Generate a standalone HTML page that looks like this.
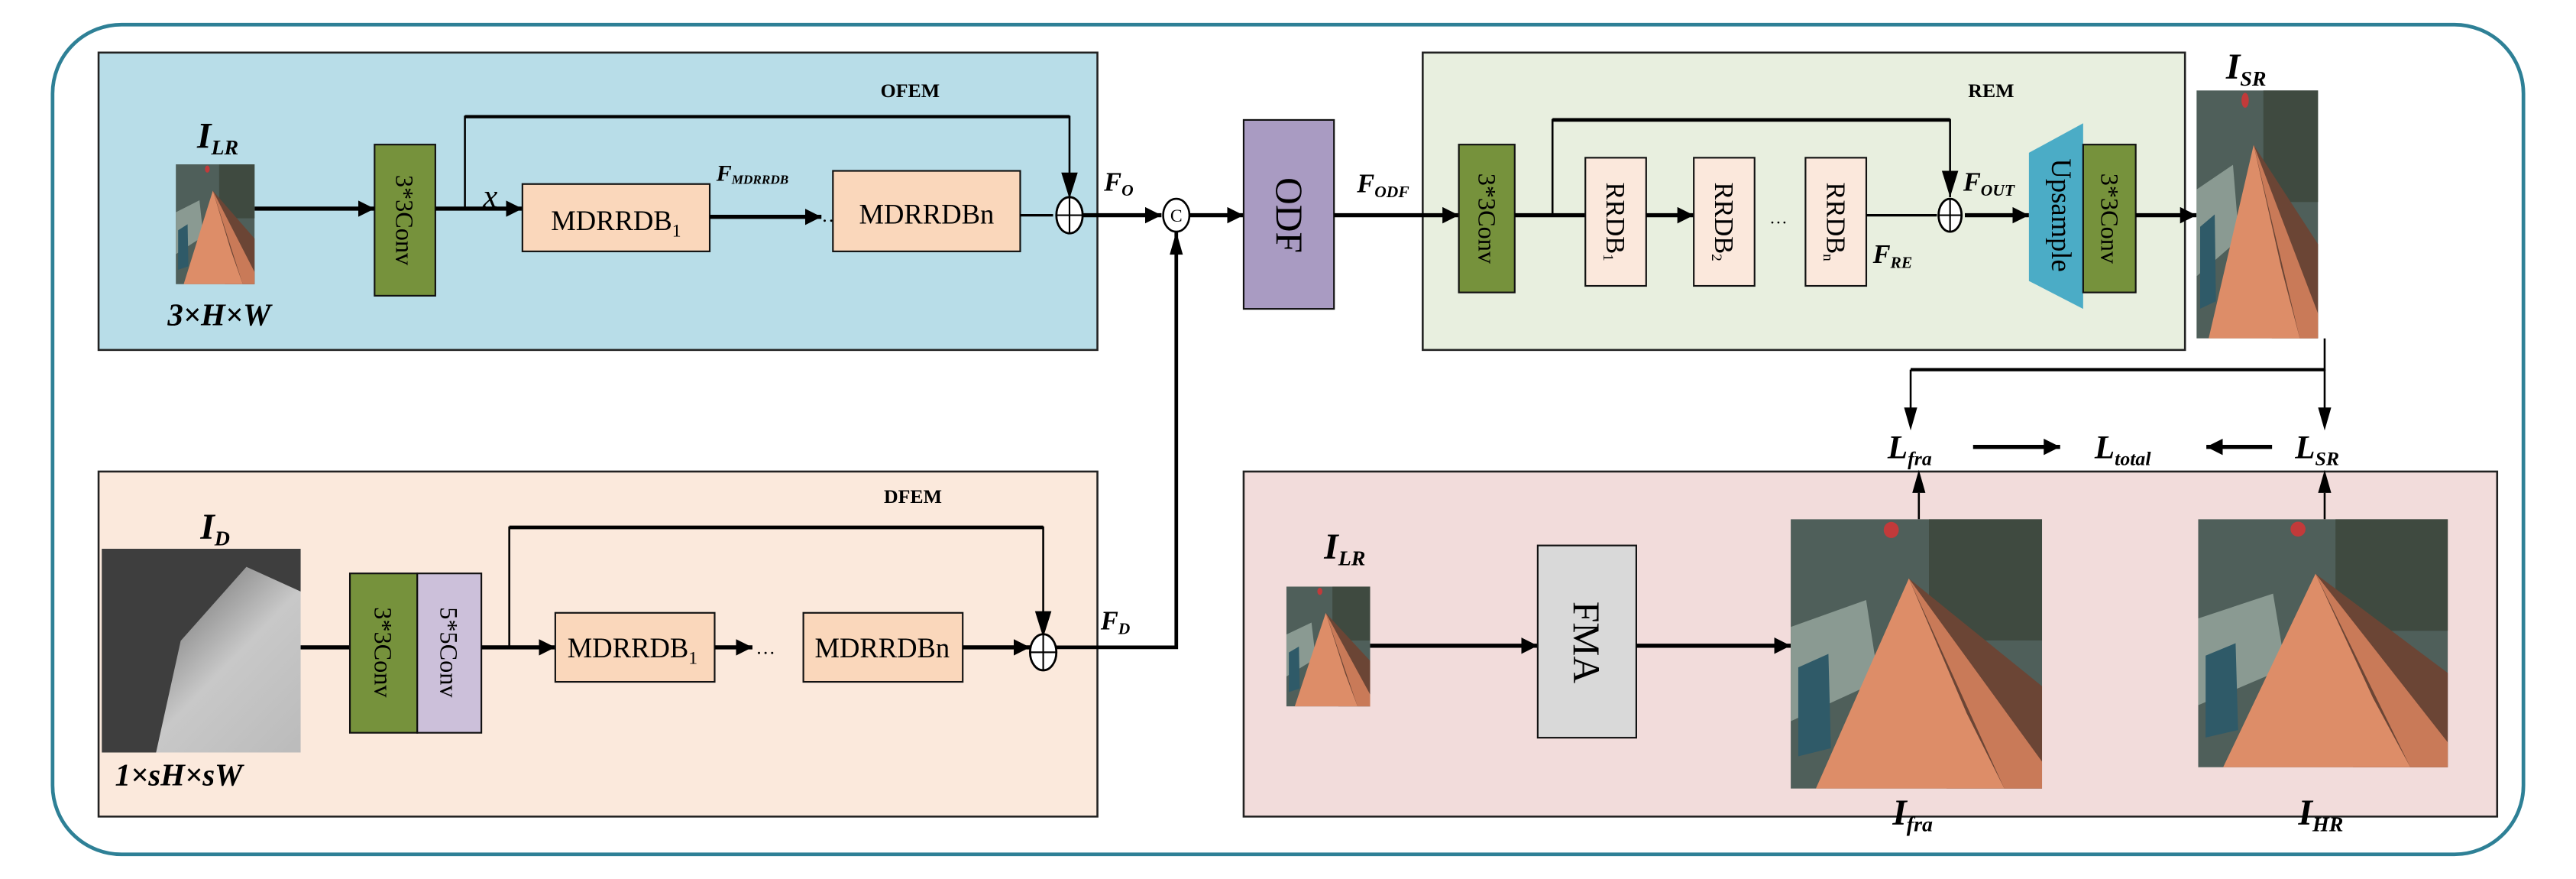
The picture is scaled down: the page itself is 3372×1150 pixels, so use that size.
<!DOCTYPE html>
<html><head><meta charset="utf-8"><style>
html,body{margin:0;padding:0;background:#fff;}
svg{display:block;}
text{font-family:"Liberation Serif",serif;fill:#000;}
.it{font-style:italic;font-weight:bold;}
</style></head><body>
<svg width="3372" height="1150" viewBox="0 0 1568 535" preserveAspectRatio="none" xmlns="http://www.w3.org/2000/svg">
<defs>
<marker id="ab" viewBox="0 0 10 10" refX="10" refY="5" markerWidth="10" markerHeight="10" orient="auto" markerUnits="userSpaceOnUse"><path d="M0,0L10,5L0,10z"/></marker>
<symbol id="roof" viewBox="0 0 100 100" preserveAspectRatio="none">
<rect width="100" height="100" fill="#4f5f5a"/>
<rect x="55" y="0" width="45" height="45" fill="#3f4a40"/>
<path d="M0,40 L30,30 L35,60 L0,75z" fill="#8a9a92"/>
<path d="M3,55 L15,50 L16,85 L3,88z" fill="#2f5a68"/>
<polygon points="47,22 100,62 100,100 62,100" fill="#6b4535"/>
<polygon points="47,22 10,100 85,100 70,72" fill="#dd8d68"/>
<polygon points="47,22 85,100 100,100 100,90" fill="#c97a58"/>
<circle cx="40" cy="4" r="3" fill="#c23a3a"/>
</symbol>
<linearGradient id="dg" x1="0" y1="0" x2="1" y2="1">
<stop offset="0" stop-color="#444"/><stop offset="0.35" stop-color="#8a8a8a"/><stop offset="0.6" stop-color="#c8c8c8"/><stop offset="1" stop-color="#bbb"/></linearGradient>
</defs>

<rect x="32" y="15" width="1504" height="505" rx="42" ry="42" fill="none" stroke="#2e8096" stroke-width="2.2"/>

<!-- OFEM -->
<rect x="60" y="32" width="608" height="181" fill="#b8dde8" stroke="#222" stroke-width="1.2"/>
<text x="536" y="59" font-size="12" font-weight="bold">OFEM</text>
<text x="120" y="90" font-size="22" class="it">I<tspan font-size="13" dy="4">LR</tspan></text>
<use href="#roof" x="107" y="100" width="48" height="73"/>
<text x="102" y="198" font-size="19" class="it">3×H×W</text>
<rect x="228" y="88" width="37" height="92" fill="#76923c" stroke="#111" stroke-width="1"/>
<text transform="translate(241,134) rotate(90)" font-size="15" text-anchor="middle">3*3Conv</text>
<line x1="155" y1="127" x2="228" y2="127" stroke="#000" stroke-width="2.5" marker-end="url(#ab)"/>
<line x1="265" y1="127" x2="318" y2="127" stroke="#000" stroke-width="2.5" marker-end="url(#ab)"/>
<polyline points="283,127 283,71 651,71 651,121" fill="none" stroke="#000" stroke-width="1.2"/>
<path d="M646,105L656,105L651,121z"/>
<line x1="283" y1="71" x2="651" y2="71" stroke="#000" stroke-width="2"/>
<text x="294" y="126" font-size="20" font-style="italic">x</text>
<rect x="318" y="112" width="114" height="41" fill="#fad7bb" stroke="#111" stroke-width="1"/>
<text x="375" y="140" font-size="17" text-anchor="middle">MDRRDB<tspan font-size="11" dy="4">1</tspan></text>
<text x="436" y="110" font-size="14" class="it">F<tspan font-size="8" dy="2">MDRRDB</tspan></text>
<line x1="432" y1="132" x2="500" y2="132" stroke="#000" stroke-width="2.5" marker-end="url(#ab)"/>
<text x="500" y="135" font-size="12">…</text>
<rect x="507" y="104" width="114" height="49" fill="#fad7bb" stroke="#111" stroke-width="1"/>
<text x="564" y="136" font-size="17" text-anchor="middle">MDRRDBn</text>
<line x1="621" y1="131" x2="641" y2="131" stroke="#000" stroke-width="1.5"/>
<ellipse cx="651" cy="131" rx="8" ry="11" fill="#fff" stroke="#000" stroke-width="1.3"/>
<line x1="643" y1="131" x2="659" y2="131" stroke="#000" stroke-width="1"/><line x1="651" y1="120" x2="651" y2="142" stroke="#000" stroke-width="1"/>
<text x="672" y="116" font-size="16" class="it">F<tspan font-size="10" dy="3">O</tspan></text>
<line x1="659" y1="131" x2="707" y2="131" stroke="#000" stroke-width="2.5" marker-end="url(#ab)"/>
<ellipse cx="716" cy="131" rx="8" ry="10" fill="#fff" stroke="#000" stroke-width="1.2"/>
<text x="716" y="135" font-size="11" text-anchor="middle">C</text>
<line x1="724" y1="131" x2="757" y2="131" stroke="#000" stroke-width="2.5" marker-end="url(#ab)"/>

<!-- ODF -->
<rect x="757" y="73" width="55" height="115" fill="#a99bc2" stroke="#111" stroke-width="1"/>
<text transform="translate(777,131) rotate(90)" font-size="23" text-anchor="middle">ODF</text>
<text x="826" y="117" font-size="16" class="it">F<tspan font-size="10" dy="3">ODF</tspan></text>

<!-- REM -->
<rect x="866" y="32" width="464" height="181" fill="#e8efdf" stroke="#222" stroke-width="1.2"/>
<text x="1198" y="59" font-size="12" font-weight="bold">REM</text>
<line x1="812" y1="131" x2="888" y2="131" stroke="#000" stroke-width="2.5" marker-end="url(#ab)"/>
<rect x="888" y="88" width="34" height="90" fill="#76923c" stroke="#111" stroke-width="1"/>
<text transform="translate(900,133) rotate(90)" font-size="15" text-anchor="middle">3*3Conv</text>
<line x1="922" y1="131" x2="965" y2="131" stroke="#000" stroke-width="2.5"/>
<polyline points="945,131 945,73 1187,73 1187,120" fill="none" stroke="#000" stroke-width="1.2"/>
<line x1="945" y1="73" x2="1187" y2="73" stroke="#000" stroke-width="2.2"/>
<path d="M1182,104L1192,104L1187,120z"/>
<rect x="965" y="96" width="37" height="78" fill="#fbe8dc" stroke="#111" stroke-width="1"/>
<text transform="translate(978,135) rotate(90)" font-size="16" text-anchor="middle">RRDB<tspan font-size="9" dy="2">1</tspan></text>
<line x1="1002" y1="131" x2="1031" y2="131" stroke="#000" stroke-width="2.5" marker-end="url(#ab)"/>
<rect x="1031" y="96" width="37" height="78" fill="#fbe8dc" stroke="#111" stroke-width="1"/>
<text transform="translate(1044,135) rotate(90)" font-size="16" text-anchor="middle">RRDB<tspan font-size="9" dy="2">2</tspan></text>
<text x="1077" y="136" font-size="11">…</text>
<rect x="1099" y="96" width="37" height="78" fill="#fbe8dc" stroke="#111" stroke-width="1"/>
<text transform="translate(1112,135) rotate(90)" font-size="16" text-anchor="middle">RRDB<tspan font-size="9" dy="2">n</tspan></text>
<text x="1140" y="160" font-size="16" class="it">F<tspan font-size="10" dy="3">RE</tspan></text>
<line x1="1136" y1="131" x2="1179" y2="131" stroke="#000" stroke-width="1.5"/>
<ellipse cx="1187" cy="131" rx="7" ry="10" fill="#fff" stroke="#000" stroke-width="1.3"/>
<line x1="1180" y1="131" x2="1194" y2="131" stroke="#000" stroke-width="1"/><line x1="1187" y1="121" x2="1187" y2="141" stroke="#000" stroke-width="1"/>
<text x="1195" y="116" font-size="16" class="it">F<tspan font-size="10" dy="3">OUT</tspan></text>
<line x1="1196" y1="131" x2="1235" y2="131" stroke="#000" stroke-width="2.5" marker-end="url(#ab)"/>
<polygon points="1235,93 1268,75 1268,188 1235,171" fill="#4bacc6"/>
<text transform="translate(1249,131) rotate(90)" font-size="17" text-anchor="middle">Upsample</text>
<rect x="1268" y="88" width="32" height="90" fill="#76923c" stroke="#111" stroke-width="1"/>
<text transform="translate(1279,133) rotate(90)" font-size="15" text-anchor="middle">3*3Conv</text>
<line x1="1300" y1="131" x2="1337" y2="131" stroke="#000" stroke-width="2.5" marker-end="url(#ab)"/>
<text x="1355" y="48" font-size="22" class="it">I<tspan font-size="13" dy="4">SR</tspan></text>
<use href="#roof" x="1337" y="55" width="74" height="151"/>

<!-- loss -->
<polyline points="1415,206 1415,225 1163,225" fill="none" stroke="#000" stroke-width="1.2"/>
<line x1="1163" y1="225" x2="1415" y2="225" stroke="#000" stroke-width="2"/>
<line x1="1163" y1="225" x2="1163" y2="258" stroke="#000" stroke-width="1.2"/>
<path d="M1159,248L1167,248L1163,262z"/>
<line x1="1415" y1="225" x2="1415" y2="258" stroke="#000" stroke-width="1.2"/>
<path d="M1411,248L1419,248L1415,262z"/>
<text x="1149" y="279" font-size="20" class="it">L<tspan font-size="12" dy="4">fra</tspan></text>
<text x="1275" y="279" font-size="20" class="it">L<tspan font-size="12" dy="4">total</tspan></text>
<text x="1397" y="279" font-size="20" class="it">L<tspan font-size="12" dy="4">SR</tspan></text>
<line x1="1201" y1="272" x2="1254" y2="272" stroke="#000" stroke-width="2.5" marker-end="url(#ab)"/>
<line x1="1383" y1="272" x2="1343" y2="272" stroke="#000" stroke-width="2.5" marker-end="url(#ab)"/>

<!-- DFEM -->
<rect x="60" y="287" width="608" height="210" fill="#fbe9dc" stroke="#222" stroke-width="1.2"/>
<text x="538" y="306" font-size="12" font-weight="bold">DFEM</text>
<text x="122" y="328" font-size="22" class="it">I<tspan font-size="13" dy="4">D</tspan></text>
<rect x="62" y="334" width="121" height="124" fill="url(#dg)"/>
<polygon points="62,334 183,334 183,360 150,345 110,390 95,458 62,458" fill="#3e3e3e"/>
<text x="70" y="478" font-size="19" class="it">1×sH×sW</text>
<line x1="183" y1="394" x2="213" y2="394" stroke="#000" stroke-width="2.5"/>
<rect x="213" y="349" width="41" height="97" fill="#76923c" stroke="#111" stroke-width="1"/>
<text transform="translate(228,397) rotate(90)" font-size="15" text-anchor="middle">3*3Conv</text>
<rect x="254" y="349" width="39" height="97" fill="#ccc0da" stroke="#111" stroke-width="1"/>
<text transform="translate(268,397) rotate(90)" font-size="15" text-anchor="middle">5*5Conv</text>
<line x1="293" y1="394" x2="338" y2="394" stroke="#000" stroke-width="2.5" marker-end="url(#ab)"/>
<polyline points="310,394 310,321 635,321 635,386" fill="none" stroke="#000" stroke-width="1.2"/>
<line x1="310" y1="321" x2="635" y2="321" stroke="#000" stroke-width="2.2"/>
<path d="M630,372L640,372L635,388z"/>
<rect x="338" y="373" width="97" height="42" fill="#fad7bb" stroke="#111" stroke-width="1"/>
<text x="385" y="400" font-size="17" text-anchor="middle">MDRRDB<tspan font-size="11" dy="4">1</tspan></text>
<line x1="435" y1="394" x2="458" y2="394" stroke="#000" stroke-width="2.5" marker-end="url(#ab)"/>
<text x="460" y="398" font-size="12">…</text>
<rect x="489" y="373" width="97" height="42" fill="#fad7bb" stroke="#111" stroke-width="1"/>
<text x="537" y="400" font-size="17" text-anchor="middle">MDRRDBn</text>
<line x1="586" y1="394" x2="627" y2="394" stroke="#000" stroke-width="2.5" marker-end="url(#ab)"/>
<ellipse cx="635" cy="397" rx="8" ry="11" fill="#fff" stroke="#000" stroke-width="1.3"/>
<line x1="627" y1="397" x2="643" y2="397" stroke="#000" stroke-width="1"/><line x1="635" y1="386" x2="635" y2="408" stroke="#000" stroke-width="1"/>
<text x="670" y="383" font-size="16" class="it">F<tspan font-size="10" dy="3">D</tspan></text>
<polyline points="643,394 716,394 716,141" fill="none" stroke="#000" stroke-width="2.2"/>
<path d="M712,155L720,155L716,141z"/>

<!-- bottom right -->
<rect x="757" y="287" width="763" height="210" fill="#f2dcdb" stroke="#222" stroke-width="1.2"/>
<text x="806" y="340" font-size="22" class="it">I<tspan font-size="13" dy="4">LR</tspan></text>
<use href="#roof" x="783" y="357" width="51" height="73"/>
<line x1="834" y1="393" x2="936" y2="393" stroke="#000" stroke-width="2.5" marker-end="url(#ab)"/>
<rect x="936" y="332" width="60" height="117" fill="#d9d9d9" stroke="#111" stroke-width="1"/>
<text transform="translate(958,391) rotate(90)" font-size="23" text-anchor="middle">FMA</text>
<line x1="996" y1="393" x2="1090" y2="393" stroke="#000" stroke-width="2.5" marker-end="url(#ab)"/>
<use href="#roof" x="1090" y="316" width="153" height="164"/>
<use href="#roof" x="1338" y="316" width="152" height="151"/>
<line x1="1168" y1="316" x2="1168" y2="300" stroke="#000" stroke-width="1.2"/>
<path d="M1164,300L1172,300L1168,286z"/>
<line x1="1415" y1="316" x2="1415" y2="300" stroke="#000" stroke-width="1.2"/>
<path d="M1411,300L1419,300L1415,286z"/>
<text x="1152" y="502" font-size="22" class="it">I<tspan font-size="13" dy="4">fra</tspan></text>
<text x="1399" y="502" font-size="22" class="it">I<tspan font-size="13" dy="4">HR</tspan></text>
</svg>
</body></html>
